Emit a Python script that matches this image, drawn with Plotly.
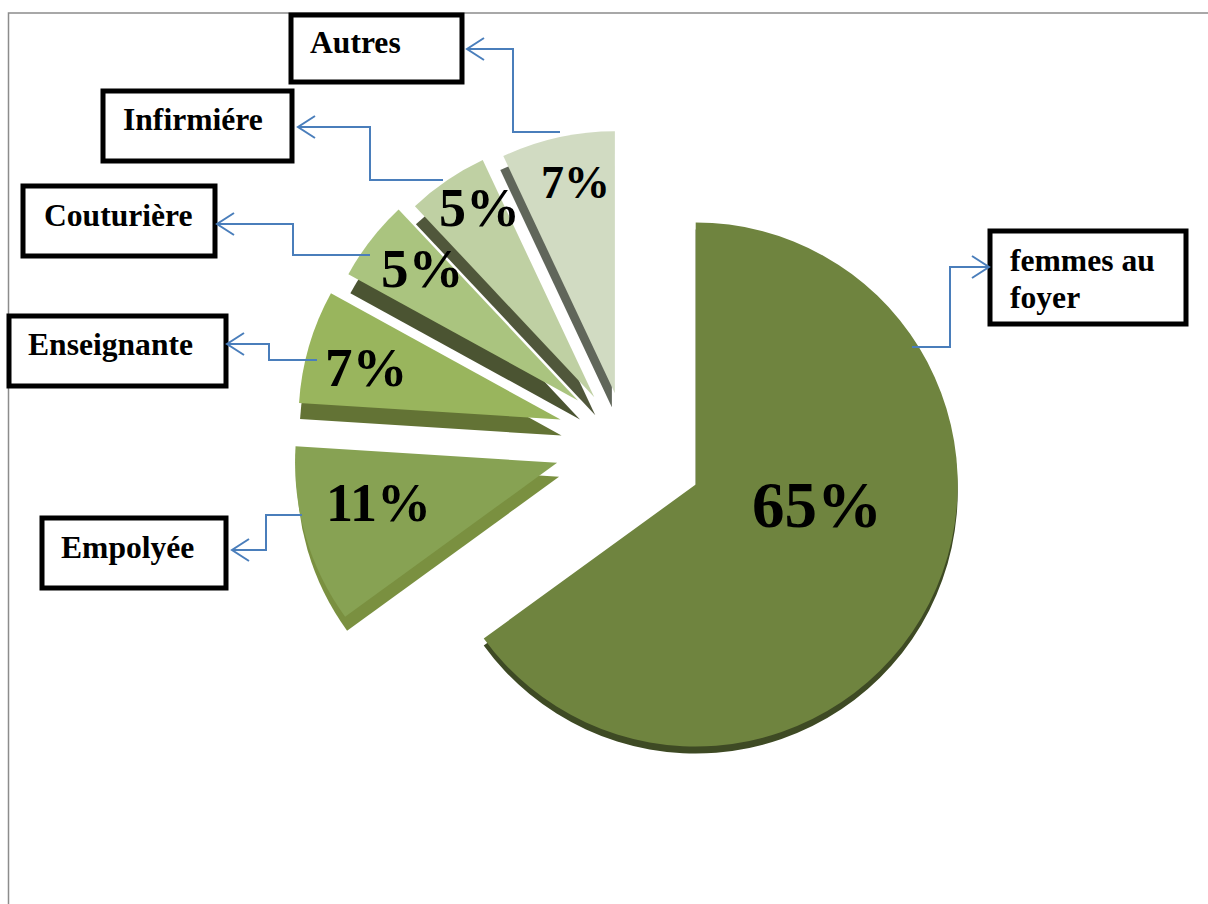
import plotly.graph_objects as go

# ---- data ----
categories = ["femmes au foyer", "Empolyée", "Enseignante", "Couturière", "Infirmiére", "Autres"]
values = [65, 11, 7, 5, 5, 7]
pulls = [0.29, 0.27, 0.28, 0.29, 0.29, 0.23]
top_colors = ["#6f843f", "#87a253", "#99b55d", "#aac47f", "#bfd0a3", "#d1dbc2"]
side_colors = ["#3e4a24", "#7a9040", "#637335", "#4b5432", "#50573b", "#60665a"]

W, H = 1208, 904
CX, CY, R = 625, 453, 338
# fine placement of each slice (px) and direction of its visible thickness (px)
slice_offsets = [(3, -3), (0, -10), (6, -13), (13, -6), (12, 7), (3, -1)]
depths = [(0, 7), (2, 14), (1, 16), (2, 19), (1, 18), (-3, 14)]


def px(x):
    return x / W


def py(y):
    return 1 - y / H


def domain(dx=0, dy=0):
    return dict(x=[px(CX - R + dx), px(CX + R + dx)], y=[py(CY + R + dy), py(CY - R + dy)])


hidden = "rgba(0,0,0,0)"


def pie(color, index, dom):
    colors = [hidden] * len(values)
    colors[index] = color
    return go.Pie(
        labels=categories, values=values, pull=pulls, sort=False, direction="clockwise",
        rotation=0, domain=dom, textinfo="none", hoverinfo="skip",
        marker=dict(colors=colors, line=dict(width=0)), showlegend=False,
    )


fig = go.Figure()
for i, ((ox, oy), (dx, dy)) in enumerate(zip(slice_offsets, depths)):
    fig.add_trace(pie(side_colors[i], i, domain(ox + dx, oy + dy)))
for i, (ox, oy) in enumerate(slice_offsets):
    fig.add_trace(pie(top_colors[i], i, domain(ox, oy)))

shapes = []


def path(points):
    d = "M " + " L ".join(f"{px(x)},{py(y)}" for x, y in points)
    return dict(type="path", xref="paper", yref="paper", path=d,
                line=dict(color="#4a7ebb", width=2), fillcolor="rgba(0,0,0,0)")


# outer frame
shapes.append(dict(type="path", xref="paper", yref="paper",
                   path=f"M {px(8.5)},0 L {px(8.5)},{py(13)} L 1,{py(13)}",
                   line=dict(color="#8c8c8c", width=1.5), fillcolor="rgba(0,0,0,0)"))

boxes = [
    (291, 15, 462, 82),
    (103, 91, 292, 161),
    (23, 186, 215, 256),
    (9, 316, 226, 386),
    (42, 518, 226, 588),
    (990, 231, 1186, 324),
]
for x0, y0, x1, y1 in boxes:
    shapes.append(dict(type="rect", xref="paper", yref="paper",
                       x0=px(x0), x1=px(x1), y0=py(y0), y1=py(y1),
                       fillcolor="white", line=dict(color="black", width=5)))

connectors = [
    ([(560, 132), (513, 132), (513, 49), (467, 49)], "left"),
    ([(443, 180), (370, 180), (370, 127), (298, 127)], "left"),
    ([(370, 255), (293, 255), (293, 224), (217, 224)], "left"),
    ([(317, 360), (269, 360), (269, 344), (227, 344)], "left"),
    ([(302, 515), (266, 515), (266, 550), (232, 550)], "left"),
    ([(912, 347), (950, 347), (950, 267), (989, 267)], "right"),
]
for pts, side in connectors:
    shapes.append(path(pts))
    x, y = pts[-1]
    s = 17 if side == "left" else -17
    shapes.append(path([(x + s, y - 11), (x, y), (x + s, y + 11)]))

annotations = []
FONT = "Liberation Serif"
box_labels = [
    ("Autres", 308, 42), ("Infirmiére", 121, 120), ("Couturière", 42, 215),
    ("Enseignante", 26, 345), ("Empolyée", 59, 547), ("femmes au", 1008, 261), ("foyer", 1008, 297),
]
for text, tx, ty in box_labels:
    annotations.append(dict(xref="paper", yref="paper", x=px(tx), y=py(ty), text=f"<b>{text}</b>",
                            showarrow=False, xanchor="left", yanchor="middle",
                            font=dict(family=FONT, size=31.6, color="black")))

label_pos = [(817, 505, 65), (378, 503, 54), (366, 368, 55), (422, 268, 55), (480, 208, 54), (575, 182, 46)]
for v, (tx, ty, size) in zip(values, label_pos):
    annotations.append(dict(xref="paper", yref="paper", x=px(tx), y=py(ty), text=f"<b>{v}%</b>",
                            showarrow=False, xanchor="center", yanchor="middle",
                            font=dict(family=FONT, size=size, color="black")))

fig.update_layout(width=W, height=H, margin=dict(l=0, r=0, t=0, b=0),
                  paper_bgcolor="white", plot_bgcolor="white",
                  shapes=shapes, annotations=annotations, showlegend=False)

fig.write_html("out.html", config=dict(displayModeBar=False),
               post_script="document.body.style.margin='0';document.body.style.overflow='hidden';")
